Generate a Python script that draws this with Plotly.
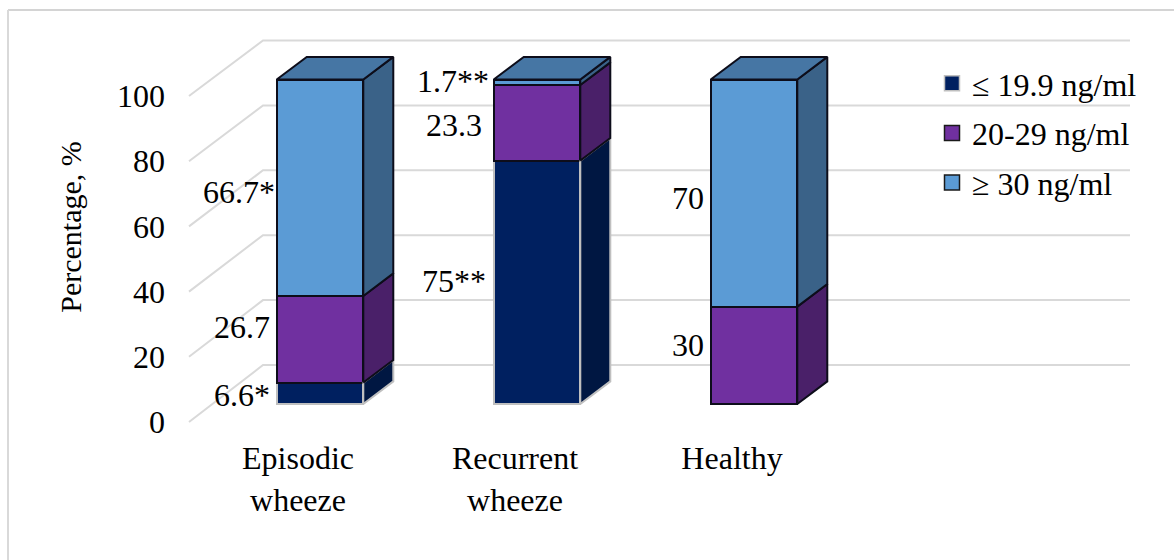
import plotly.graph_objects as go

# Chart data
categories = ["Episodic<br>wheeze", "Recurrent<br>wheeze", "Healthy"]
series_names = ["≤ 19.9 ng/ml", "20-29 ng/ml", "≥ 30 ng/ml"]
low_values = [6.6, 75, 0]
mid_values = [26.7, 23.3, 30]
high_values = [66.7, 1.7, 70]
low_labels = ["6.6*", "75**", ""]
mid_labels = ["26.7", "23.3", "30"]
high_labels = ["66.7*", "1.7**", "70"]
y_ticks = [0, 20, 40, 60, 80, 100]
axis_title = "Percentage, %"

# Style
FONT = "Liberation Serif"
TEXT_SIZE = 32
GRID = "#D9D9D9"
FRONT = ["#002060", "#7030A0", "#5B9BD5"]
SIDE = ["#001742", "#4A2069", "#3A6288"]
TOP = "#4676A4"
EDGE = ["#BFBFBF", "#0D0D1A", "#0D0D1A"]
SWATCH_EDGE = ["#BFBFBF", "#1A1A1A", "#1A1A1A"]

# Scale of the pseudo-3D projection
W, H = 1174, 560
PLOT_L, PLOT_R, PLOT_T, PLOT_B = 166, 1140, 18, 436
PX_PER_CAT = 217
PX_PER_PCT = 3.245
ZERO_X, ZERO_Y = 320, 404
BAR_W = 0.399
DEPTH_X = 30 / PX_PER_CAT      # bar depth along x, in category units
DEPTH_Y = 22.6 / PX_PER_PCT    # bar depth along y, in percent units
WALL_FRONT_X = (189 - ZERO_X) / PX_PER_CAT
WALL_BACK_X = (263 - ZERO_X) / PX_PER_CAT
WALL_END_X = (1130 - ZERO_X) / PX_PER_CAT
WALL_FRONT_Y = (ZERO_Y - 422) / PX_PER_PCT
WALL_BACK_Y = (ZERO_Y - 365) / PX_PER_PCT
CAT_LABEL_SHIFT = -22 / PX_PER_CAT

positions = list(range(len(categories)))
series = [low_values, mid_values, high_values]
labels = [low_labels, mid_labels, high_labels]

# Data label nudges in pixels: (left of the bar, downward from the segment middle)
label_nudges = [
    [(5, 2), (6, -1), (0, 0)],
    [(5, -12), (10, 2), (5, -10)],
    [(0, 4), (3, -1), (5, 5)],
]

fig = go.Figure()

# Front faces
for s, values in enumerate(series):
    fig.add_trace(go.Bar(
        x=positions, y=values, width=BAR_W, name=series_names[s],
        showlegend=False,
        marker=dict(color=FRONT[s], line=dict(color=EDGE[s], width=2)),
    ))

# Side faces, then the lid on top of each stack
base = [0.0] * len(categories)
for s, values in enumerate(series):
    for i, v in enumerate(values):
        if v > 0:
            xr = positions[i] + BAR_W / 2
            y0, y1 = base[i], base[i] + v
            fig.add_trace(go.Scatter(
                x=[xr, xr + DEPTH_X, xr + DEPTH_X, xr, xr],
                y=[y0, y0 + DEPTH_Y, y1 + DEPTH_Y, y1, y0],
                mode="lines", fill="toself", fillcolor=SIDE[s],
                line=dict(color=EDGE[s], width=2),
                showlegend=False, hoverinfo="skip",
            ))
        base[i] += v

for i, top in enumerate(base):
    xl = positions[i] - BAR_W / 2
    xr = positions[i] + BAR_W / 2
    fig.add_trace(go.Scatter(
        x=[xl, xr, xr + DEPTH_X, xl + DEPTH_X, xl],
        y=[top, top, top + DEPTH_Y, top + DEPTH_Y, top],
        mode="lines", fill="toself", fillcolor=TOP,
        line=dict(color=EDGE[2], width=2),
        showlegend=False, hoverinfo="skip",
    ))

# Legend entries with square swatches
for s, name in enumerate(series_names):
    fig.add_trace(go.Scatter(
        x=[None], y=[None], mode="markers", name=name, legendgroup=name,
        marker=dict(symbol="square", size=15, color=FRONT[s],
                    line=dict(color=SWATCH_EDGE[s], width=1.5)),
    ))

# Gridlines on the floor edge and back wall
shapes = []
for t in y_ticks:
    path = (f"M {WALL_FRONT_X} {t * 3.26 / PX_PER_PCT + WALL_FRONT_Y} "
            f"L {WALL_BACK_X} {t + WALL_BACK_Y} L {WALL_END_X} {t + WALL_BACK_Y}")
    shapes.append(dict(type="path", path=path, xref="x", yref="y", layer="below",
                       line=dict(color=GRID, width=2)))

# Chart frame: only the top and left edges fall inside the page
pw, ph = PLOT_R - PLOT_L, PLOT_B - PLOT_T
shapes.append(dict(type="line", xref="paper", yref="paper", layer="below",
                   x0=(8 - PLOT_L) / pw, x1=(W + 5 - PLOT_L) / pw,
                   y0=(PLOT_B - 10) / ph, y1=(PLOT_B - 10) / ph,
                   line=dict(color="#C6C6C6", width=1.5)))
shapes.append(dict(type="line", xref="paper", yref="paper", layer="below",
                   x0=(8 - PLOT_L) / pw, x1=(8 - PLOT_L) / pw,
                   y0=(PLOT_B - 10) / ph, y1=(PLOT_B - H - 5) / ph,
                   line=dict(color=GRID, width=2)))

# Data labels to the left of each segment
annotations = []
base = [0.0] * len(categories)
for s, values in enumerate(series):
    for i, v in enumerate(values):
        if labels[s][i]:
            dx, dy = label_nudges[s][i]
            annotations.append(dict(
                x=positions[i] - BAR_W / 2, y=base[i] + v / 2, xref="x", yref="y",
                text=labels[s][i], showarrow=False, xanchor="right",
                xshift=-dx, yshift=-dy,
                font=dict(family=FONT, size=TEXT_SIZE, color="#000000"),
            ))
        base[i] += v

fig.update_layout(
    width=W, height=H, autosize=False,
    margin=dict(l=PLOT_L, r=W - PLOT_R, t=PLOT_T, b=H - PLOT_B, pad=0),
    paper_bgcolor="white", plot_bgcolor="rgba(0,0,0,0)",
    barmode="stack",
    font=dict(family=FONT, size=TEXT_SIZE, color="#000000"),
    shapes=shapes, annotations=annotations,
    xaxis=dict(
        range=[(PLOT_L - ZERO_X) / PX_PER_CAT, (PLOT_R - ZERO_X) / PX_PER_CAT],
        tickmode="array",
        tickvals=[p + CAT_LABEL_SHIFT for p in positions],
        ticktext=categories,
        showgrid=False, zeroline=False, showline=False, ticks="",
    ),
    yaxis=dict(
        range=[(ZERO_Y - PLOT_B) / PX_PER_PCT, (ZERO_Y - PLOT_T) / PX_PER_PCT],
        tickmode="array",
        tickvals=[t * 3.26 / PX_PER_PCT + WALL_FRONT_Y for t in y_ticks],
        ticktext=[str(t) for t in y_ticks],
        showgrid=False, zeroline=False, showline=False, ticks="",
        title=dict(text=axis_title, standoff=26,
                   font=dict(family=FONT, size=30)),
    ),
    legend=dict(
        x=(932 - PLOT_L) / pw, y=(PLOT_B - 56) / ph, xanchor="left", yanchor="top",
        traceorder="grouped", tracegroupgap=5, itemsizing="trace",
        bgcolor="rgba(0,0,0,0)",
        font=dict(family=FONT, size=TEXT_SIZE),
    ),
)

fig.write_html("out.html")
